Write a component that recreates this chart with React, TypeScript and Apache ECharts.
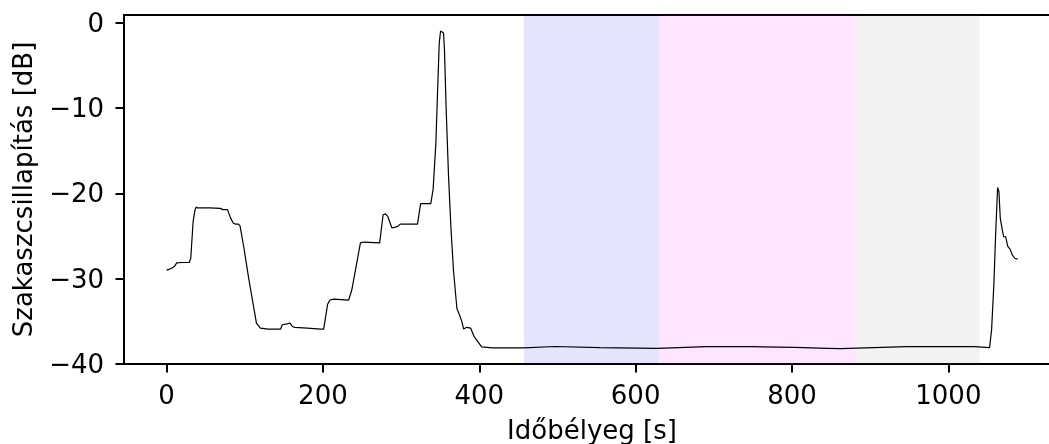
import React, { useEffect, useRef } from "react";
import * as echarts from "echarts";

// Time stamps [s]
const times: number[] = [
  0, 3, 5.5, 8, 10.6, 13, 20, 29, 31, 34, 36.5, 38, 39.5, 55, 69, 72, 78, 82, 85.5, 88.4,
  92, 94, 99, 105, 111, 115, 120, 130, 146, 148, 154, 158, 161, 164, 180, 197, 201, 206,
  209, 214, 233, 237, 248, 252, 272.6, 277, 280, 283, 288, 291, 295, 299, 321, 325, 338,
  341, 344.5, 346.6, 348.8, 350.5, 353, 354.3, 355.5, 357.7, 360.7, 363.7, 367, 371.4,
  374.7, 377.7, 380, 384, 389, 393.5, 403, 417, 457, 497, 554, 628, 691, 748, 804, 845,
  862, 947, 1033, 1052.7, 1055.3, 1058.3, 1060.5, 1063, 1064.7, 1066.4, 1069, 1070.7,
  1073.3, 1076, 1078.7, 1081.7, 1085, 1088.5,
];

// Section attenuation [dB]
const attenuation: number[] = [
  -29.0, -28.9, -28.8, -28.7, -28.5, -28.15, -28.1, -28.1, -27.6, -23.3, -21.9, -21.6, -21.7,
  -21.7, -21.75, -21.9, -21.9, -22.9, -23.5, -23.6, -23.6, -23.8, -26.4, -29.9, -33.1, -35.2,
  -35.8, -35.9, -35.9, -35.4, -35.3, -35.2, -35.6, -35.7, -35.8, -35.9, -35.9, -33.0, -32.5,
  -32.4, -32.5, -31.3, -25.8, -25.7, -25.8, -22.5, -22.4, -22.7, -24.0, -24.0, -23.9, -23.6,
  -23.6, -21.2, -21.2, -19.5, -14.1, -8.25, -2.4, -0.95, -1.1, -1.2, -3.2, -10.2, -18.0,
  -23.9, -29.0, -33.5, -34.25, -35.0, -35.9, -35.7, -35.8, -36.8, -38.0, -38.1, -38.1,
  -37.95, -38.08, -38.16, -37.97, -37.97, -38.05, -38.16, -38.2, -37.97, -37.97, -38.08,
  -36.0, -30.5, -24.7, -19.3, -19.8, -22.9, -24.3, -25.06, -25.1, -26.2, -26.5, -27.2,
  -27.6, -27.7,
];

// Shaded intervals [s]
const bandStarts: number[] = [457, 630, 882];
const bandEnds: number[] = [630, 882, 1040];

const xTicks: number[] = [0, 200, 400, 600, 800, 1000];
const yTicks: number[] = [-40, -30, -20, -10, 0];

const bandColors = ["rgba(0,0,255,0.1)", "rgba(255,0,255,0.1)", "rgba(128,128,128,0.1)"];
const FONT = "DejaVu Sans";
const FS = 26;

const fmt = (v: number) => (v < 0 ? "\u2212" + Math.abs(v) : String(v));

export default function App() {
  const ref = useRef<HTMLDivElement>(null);
  useEffect(() => {
    if (!ref.current) return;
    const chart = echarts.init(ref.current, null, { renderer: "svg" });
    const points = times.map((t, i) => [t, attenuation[i]]);
    chart.setOption({
      animation: false,
      textStyle: { fontFamily: FONT, color: "#000" },
      grid: {
        left: 124,
        top: 15,
        width: 936,
        height: 349,
        outerBoundsMode: "none",
        containLabel: false,
        show: true,
        borderColor: "#000",
        borderWidth: 2,
        backgroundColor: "transparent",
      },
      xAxis: {
        type: "value",
        min: -54.4,
        max: 1142.8,
        name: "Időbélyeg [s]",
        nameLocation: "middle",
        nameGap: 53,
        nameTextStyle: { fontFamily: FONT, fontSize: FS, color: "#000" },
        splitLine: { show: false },
        axisLine: { show: true, onZero: false, lineStyle: { color: "#000", width: 2 } },
        axisTick: {
          show: true,
          length: 8.5,
          customValues: xTicks,
          lineStyle: { color: "#000", width: 2 },
        },
        axisLabel: {
          customValues: xTicks,
          fontFamily: FONT,
          fontSize: FS,
          color: "#000",
          margin: 18,
          formatter: fmt,
        },
      },
      yAxis: {
        type: "value",
        min: -40,
        max: 0.92,
        name: "Szakaszcsillapítás [dB]",
        nameLocation: "middle",
        nameGap: 88,
        nameRotate: 90,
        nameTextStyle: { fontFamily: FONT, fontSize: FS, color: "#000" },
        splitLine: { show: false },
        axisLine: { show: true, onZero: false, lineStyle: { color: "#000", width: 2 } },
        axisTick: {
          show: true,
          length: 8.5,
          customValues: yTicks,
          lineStyle: { color: "#000", width: 2 },
        },
        axisLabel: {
          customValues: yTicks,
          fontFamily: FONT,
          fontSize: FS,
          color: "#000",
          margin: 20,
          formatter: fmt,
        },
      },
      series: [
        {
          type: "line",
          z: 1,
          data: [],
          silent: true,
          markArea: {
            silent: true,
            data: bandStarts.map((s, i) => [
              { xAxis: s, itemStyle: { color: bandColors[i] } },
              { xAxis: bandEnds[i] },
            ]),
          },
        },
        {
          type: "line",
          z: 5,
          data: points,
          showSymbol: false,
          symbol: "none",
          lineStyle: { color: "#000", width: 1.2 },
          silent: true,
        },
      ],
    });
    return () => chart.dispose();
  }, []);
  return (
    <div
      ref={ref}
      style={{ position: "fixed", left: 0, top: 0, width: 1049, height: 444 }}
    />
  );
}
